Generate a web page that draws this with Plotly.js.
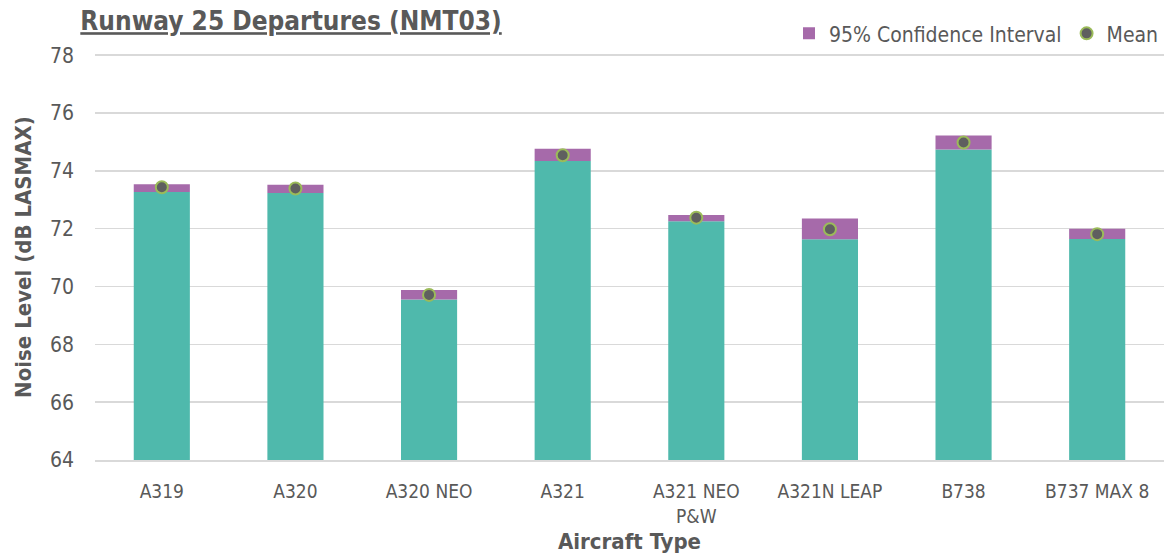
<!DOCTYPE html>
<html><head><meta charset="utf-8">
<script src="https://cdn.plot.ly/plotly-3.0.1.min.js"></script>
<style>html,body{margin:0;padding:0;background:#fff}#chart{width:1164px;height:555px}</style>
</head><body><div id="chart"></div>
<script>
const categories = ["A319","A320","A320 NEO","A321","A321 NEO<br>P&W","A321N LEAP","B738","B737 MAX 8"];
const ciLower = [73.27, 73.23, 69.55, 74.34, 72.26, 71.63, 74.74, 71.64];
const ciUpper = [73.54, 73.52, 69.88, 74.76, 72.47, 72.35, 75.22, 72.00];
const meanVals = [73.43, 73.39, 69.71, 74.54, 72.38, 71.98, 74.98, 71.81];

const FONT = "DejaVu Sans Condensed, Liberation Sans Narrow, sans-serif";
const TXT = "#595959";

const traces = [
  {type:"bar", x:categories, y:ciLower, base:0, marker:{color:"#4FB9AC"}, showlegend:false, hoverinfo:"skip"},
  {type:"bar", x:categories, y:ciUpper.map((u,i)=>u-ciLower[i]), base:ciLower, name:"95% Confidence Interval", marker:{color:"#A66AAA"}},
  {type:"scatter", mode:"markers", x:categories, y:meanVals, name:"Mean",
   marker:{color:"#5F5F5F", size:12, line:{color:"#9BBB59", width:2}}}
];

const layout = {
  width:1164, height:555,
  margin:{l:95, r:0, t:54, b:95},
  paper_bgcolor:"#fff", plot_bgcolor:"#fff",
  font:{family:FONT, color:TXT, size:18},
  barmode:"overlay", bargap:0.58,
  title:{text:"<u>Runway 25 Departures (NMT03)</u>", x:0.069, xanchor:"left", y:0.962, yanchor:"middle",
         font:{family:FONT, size:26, color:TXT, weight:"bold"}},
  showlegend:true,
  legend:{orientation:"h", x:1, xanchor:"right", y:1.05, yanchor:"middle", font:{size:21, color:TXT}, traceorder:"normal", itemwidth:30},
  xaxis:{type:"category", tickfont:{size:19, color:TXT}, showgrid:false, showline:true, linecolor:"#D9D9D9", linewidth:2,
         ticks:"", ticklabelstandoff:13, title:{text:"Aircraft Type", font:{size:22, color:TXT, weight:"bold"}, standoff:8}},
  yaxis:{range:[64,78.04], dtick:2, tick0:64, gridcolor:"#D9D9D9", gridwidth:1.5, zeroline:false, showline:false,
         tickfont:{size:21, color:TXT}, ticks:"", ticklen:0, ticklabelstandoff:20,
         title:{text:"Noise Level (dB LASMAX)", font:{size:22, color:TXT, weight:"bold"}, standoff:12}}
};
Plotly.newPlot("chart", traces, layout, {displayModeBar:false, staticPlot:true});
</script></body></html>
